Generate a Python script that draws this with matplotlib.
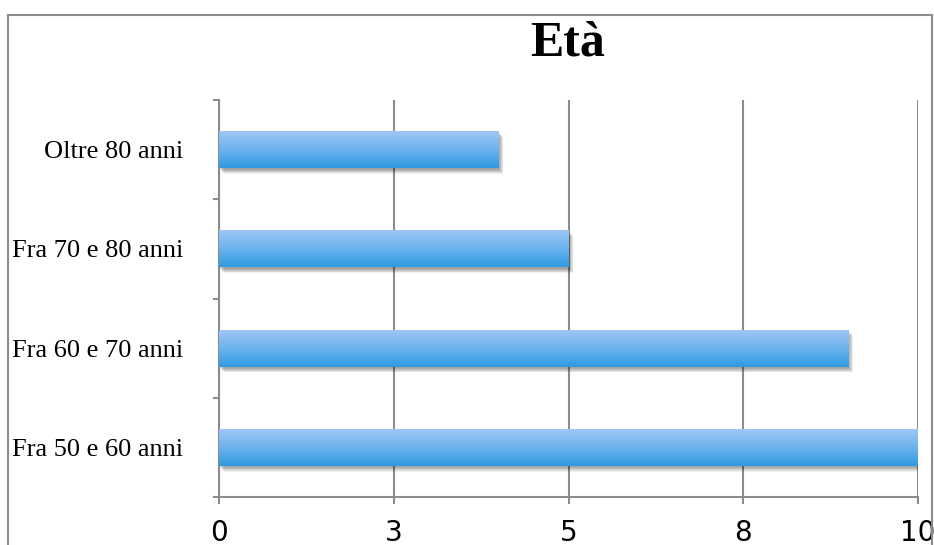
import numpy as np
import matplotlib
matplotlib.use("Agg")
import matplotlib.pyplot as plt
from matplotlib.colors import LinearSegmentedColormap
from matplotlib.lines import Line2D
import matplotlib.patheffects as pe

# dati
categorie = ["Fra 50 e 60 anni", "Fra 60 e 70 anni", "Fra 70 e 80 anni", "Oltre 80 anni"]
valori = [10, 9, 5, 4]
x_ticks = [0, 2.5, 5, 7.5, 10]
x_labels = ["0", "3", "5", "8", "10"]
titolo = "Età"

grigio = "#8c8c8c"
serif = ["Liberation Serif", "DejaVu Serif"]

fig = plt.figure(figsize=(9.34, 5.45), dpi=100)
W, H = 934, 545
ax = fig.add_axes([219 / W, 48 / H, (918 - 219) / W, (497 - 100) / H])

# ombra sfumata: tanti strati leggeri
ombra = [pe.SimplePatchShadow(offset=(dx, dy), shadow_rgbFace="k", alpha=0.06)
         for dx, dy in [(0.5, -1), (1, -1.5), (1.5, -2), (2, -2.5), (2.5, -3), (3, -3.5), (3.5, -4)]]
y = np.arange(len(categorie))
bars = ax.barh(y, valori, height=0.375, color="#5aaae9", linewidth=0, zorder=3,
               path_effects=ombra + [pe.Normal()])

# gradiente sulle barre (chiaro sopra, scuro sotto)
cmap = LinearSegmentedColormap.from_list("g", ["#2f9ae0", "#6db3ee", "#a2c7f6"])
grad = np.linspace(0, 1, 256).reshape(-1, 1)
for b in bars:
    x0, y0 = b.get_x(), b.get_y()
    im = ax.imshow(grad, cmap=cmap, aspect="auto", origin="lower",
                   extent=[x0, x0 + b.get_width(), y0, y0 + b.get_height()], zorder=4)
    im.set_clip_path(b)

ax.set_xlim(0, 10)
ax.set_ylim(-0.5, len(categorie) - 0.5)

ax.set_xticks(x_ticks)
ax.set_xticklabels(x_labels, fontsize=20, family="DejaVu Sans")
ax.tick_params(axis="x", direction="out", length=5, width=1.5, color=grigio, pad=11)

ax.set_yticks(np.arange(len(categorie) + 1) - 0.5)
ax.set_yticklabels([])
ax.set_yticks(y, minor=True)
ax.set_yticklabels(categorie, minor=True, fontsize=19, family=serif)
ax.tick_params(axis="y", which="major", direction="out", length=4.5, width=1.5, color=grigio)
ax.tick_params(axis="y", which="minor", length=0, pad=26)

ax.grid(axis="x", color=grigio, lw=1.5, zorder=1)
for s in ["top", "right"]:
    ax.spines[s].set_visible(False)
for s in ["left", "bottom"]:
    ax.spines[s].set_color(grigio)
    ax.spines[s].set_linewidth(1.5)
ax.set_axisbelow(True)

fig.text(568 / W, 1 - 44 / H, titolo, ha="center", va="center",
         fontsize=36, fontweight="bold", family=serif)

# cornice esterna
fig.add_artist(Line2D([8 / W, 8 / W], [0, 1 - 15 / H], color=grigio, lw=1.5))
fig.add_artist(Line2D([8 / W, 932 / W], [1 - 15 / H, 1 - 15 / H], color=grigio, lw=1.5))
fig.add_artist(Line2D([932 / W, 932 / W], [0, 1 - 15 / H], color=grigio, lw=1.5))

fig.savefig("out.png", dpi=100)
